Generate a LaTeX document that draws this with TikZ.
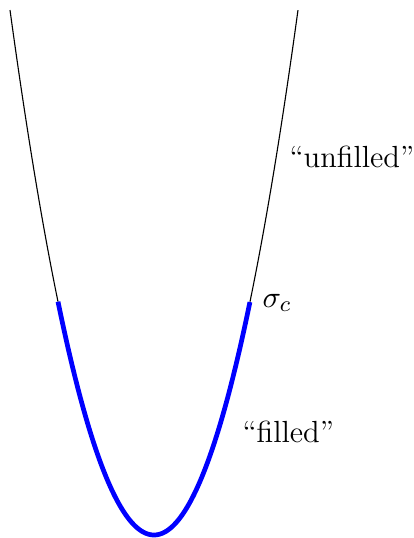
\documentclass[tikz,border=0pt]{standalone}
\begin{document}
\begin{tikzpicture}[x=0.36pt,y=-0.36pt,
  branch/.style={black,line width=0.4pt},
  filledpart/.style={blue,line width=1.7pt},
  lbl/.style={anchor=west,inner sep=0pt,font=\fontsize{11}{13}\selectfont}]
\useasboundingbox (0,0) rectangle (414,538);
\draw[branch] plot[domain=-3:-2,samples=40,smooth] ({154+48*\x},{535-58.33*\x*\x});
\draw[branch] plot[domain=2:3,samples=40,smooth] ({154+48*\x},{535-58.33*\x*\x});
\draw[filledpart] plot[domain=-2:2,samples=120,smooth] ({154+48*\x},{535-58.33*\x*\x});
\node[lbl] (sig) at (262,303) {$\sigma_c$};
\node[lbl] (unf) at (289,157) {``unfilled''};
\node[lbl] (fil) at (242,432) {``filled''};
\end{tikzpicture}
\end{document}
